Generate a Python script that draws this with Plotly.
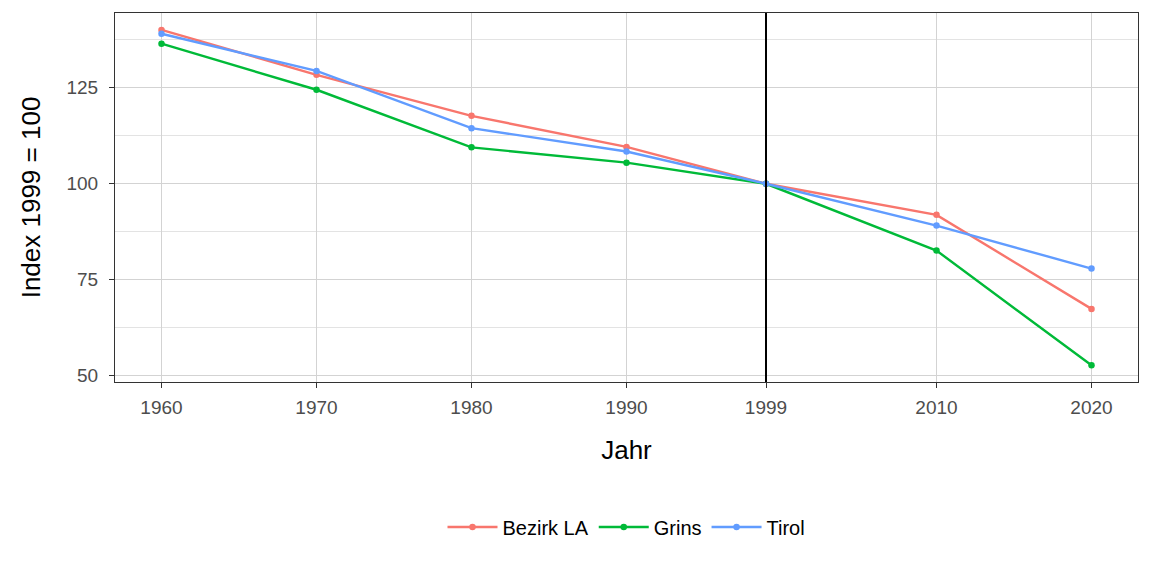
import plotly.graph_objects as go

years = [1960, 1970, 1980, 1990, 1999, 2010, 2020]
bezirk_la = [140.1, 128.4, 117.7, 109.6, 100.0, 91.9, 67.4]
grins = [136.5, 124.5, 109.5, 105.5, 100.0, 82.6, 52.7]
tirol = [139.1, 129.4, 114.5, 108.4, 100.0, 89.1, 77.9]
series = [("Bezirk LA", bezirk_la, "#F8766D"), ("Grins", grins, "#00BA38"), ("Tirol", tirol, "#619CFF")]
ref_year = 1999
y_ticks = [50, 75, 100, 125]

fig = go.Figure()
for name, vals, col in series:
    fig.add_trace(go.Scatter(x=years, y=vals, name=name, mode="lines+markers",
                             line=dict(color=col, width=2.4),
                             marker=dict(color=col, size=6.5, symbol="circle")))

fig.add_shape(type="line", xref="x", yref="paper", x0=ref_year, x1=ref_year, y0=0, y1=1,
              line=dict(color="black", width=2))

axis_common = dict(showline=True, linecolor="#333333", linewidth=1, mirror=True,
                   gridcolor="#D3D3D3", gridwidth=1, ticks="outside", ticklen=5,
                   tickcolor="#333333", tickfont=dict(family="Liberation Sans, Arial", size=19, color="#4D4D4D"),
                   zeroline=False)

fig.update_layout(
    width=1152, height=576,
    margin=dict(l=115, r=14, t=13, b=194),
    plot_bgcolor="white", paper_bgcolor="white",
    font=dict(family="Liberation Sans, Arial", color="black"),
    xaxis=dict(range=[1957, 2023], tickvals=years, ticktext=[str(y) for y in years],
               ticklabelstandoff=3,
               title=dict(text="Jahr", font=dict(size=26), standoff=24), **axis_common),
    yaxis=dict(range=[48.35, 144.5], tickvals=y_ticks, ticklabelstandoff=7,
               minor=dict(tickvals=[62.5, 87.5, 112.5, 137.5], showgrid=True, gridcolor="#E3E3E3", ticks=""),
               title=dict(text="Index 1999 = 100", font=dict(size=26), standoff=18), **axis_common),
    legend=dict(orientation="h", x=0.5, xanchor="center", y=-0.393, yanchor="middle",
                font=dict(size=20), itemwidth=50),
    showlegend=True,
)

fig.write_html("out.html")
